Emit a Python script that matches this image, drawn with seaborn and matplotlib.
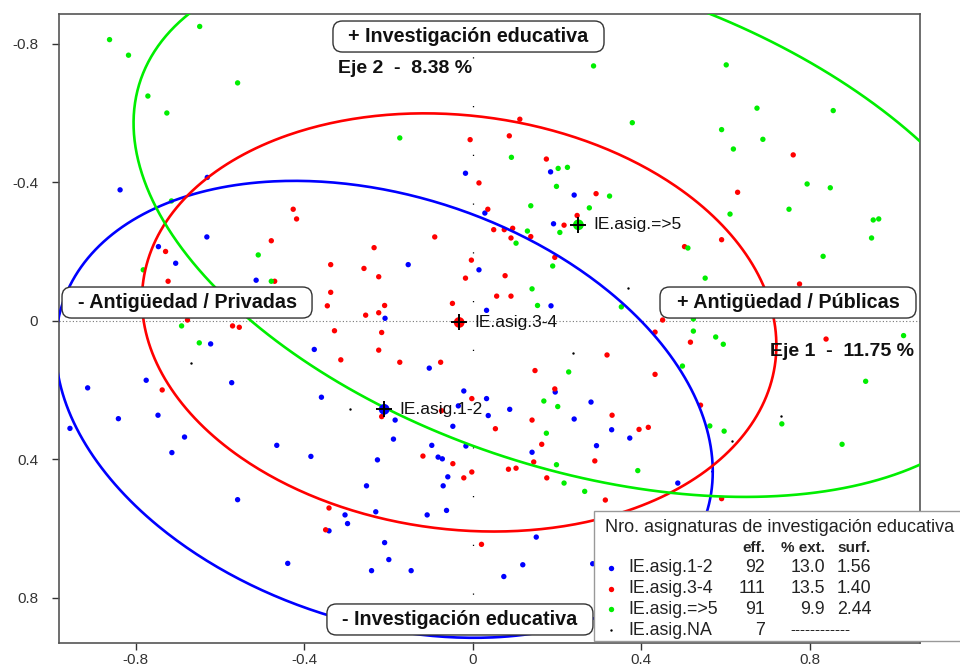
import numpy as np
import pandas as pd
import matplotlib
matplotlib.use("Agg")
import matplotlib.pyplot as plt
from matplotlib.patches import Rectangle, FancyBboxPatch
import seaborn as sns

# Individual points (factor 1 / factor 2 coordinates)
blue_x = [-0.837, -0.630, -0.631, -0.746, -0.705, -0.514, -0.017, 0.185, 0.241, 0.029,
          0.192, -0.153, 0.015, 0.186, 0.033, -0.208, -0.622, -0.376, -0.914, -0.775,
          -0.572, -0.841, -0.747, -0.359, -0.684, -0.956, -0.714, -0.465, -0.384, -0.558,
          -0.303, -0.297, -0.341, -0.439, -0.103, -0.021, 0.196, 0.033, 0.281, 0.088,
          -0.034, 0.037, 0.241, -0.047, -0.188, 0.330, 0.373, -0.097, -0.016, 0.141,
          0.294, -0.082, -0.072, -0.226, -0.059, -0.252, -0.070, -0.230, -0.062, -0.108,
          0.151, -0.209, -0.199, -0.240, -0.146, 0.119, 0.074, 0.285, -0.184, 0.487]
blue_y = [-0.378, -0.414, -0.242, -0.214, -0.166, -0.117, -0.426, -0.430, -0.363, -0.311,
          -0.280, -0.162, -0.147, -0.043, -0.030, -0.007, 0.067, 0.083, 0.194, 0.172,
          0.179, 0.283, 0.273, 0.221, 0.336, 0.311, 0.381, 0.360, 0.392, 0.517,
          0.561, 0.586, 0.607, 0.701, 0.137, 0.203, 0.206, 0.225, 0.235, 0.256,
          0.246, 0.274, 0.284, 0.305, 0.342, 0.315, 0.339, 0.360, 0.362, 0.380,
          0.361, 0.394, 0.399, 0.402, 0.451, 0.477, 0.477, 0.552, 0.548, 0.561,
          0.625, 0.641, 0.690, 0.722, 0.722, 0.705, 0.739, 0.702, 0.287, 0.469]

red_x = [-0.426, -0.418, -0.478, -0.729, -0.337, -0.723, -0.470, -0.337, -0.345, -0.677,
         0.112, -0.006, 0.087, 0.175, 0.015, 0.293, 0.036, 0.248, 0.217, 0.050,
         0.075, 0.095, 0.138, 0.091, -0.090, -0.234, -0.258, -0.223, -0.003, -0.017,
         0.077, 0.195, 0.057, 0.091, -0.048, -0.209, -0.223, -0.254, 0.761, 0.629,
         0.591, 0.503, 0.776, 0.451, -0.570, -0.554, -0.328, -0.313, -0.737, -0.341,
         -0.349, -0.216, -0.223, -0.173, -0.076, 0.319, 0.148, 0.195, -0.002, -0.216,
         0.141, 0.331, 0.054, 0.164, -0.118, -0.047, 0.145, 0.290, 0.085, 0.103,
         -0.002, -0.021, 0.176, 0.315, 0.021, -0.074, 0.433, 0.517, 0.839, 0.433,
         0.541, 0.395, 0.417, 0.591]
red_y = [-0.322, -0.294, -0.231, -0.200, -0.162, -0.114, -0.114, -0.082, -0.043, -0.002,
         -0.582, -0.523, -0.534, -0.467, -0.398, -0.367, -0.322, -0.304, -0.276, -0.263,
         -0.263, -0.267, -0.243, -0.239, -0.242, -0.211, -0.151, -0.127, -0.175, -0.123,
         -0.130, -0.183, -0.071, -0.071, -0.050, -0.044, -0.023, -0.016, -0.479, -0.371,
         -0.234, -0.214, -0.106, -0.002, 0.015, 0.019, 0.029, 0.113, 0.200, 0.541,
         0.604, 0.034, 0.085, 0.120, 0.120, 0.099, 0.144, 0.197, 0.225, 0.277,
         0.287, 0.273, 0.312, 0.357, 0.391, 0.413, 0.408, 0.405, 0.429, 0.426,
         0.437, 0.454, 0.454, 0.518, 0.646, 0.260, 0.033, 0.062, 0.053, 0.155,
         0.244, 0.314, 0.308, 0.514]

green_x = [-0.862, -0.817, -0.648, -0.558, -0.771, -0.726, -0.715, -0.509, -0.782, -0.478,
           0.287, 0.379, -0.173, 0.092, 0.203, 0.225, 0.199, 0.325, 0.277, 0.138,
           0.130, 0.207, 0.103, 0.190, 0.141, 0.154, 0.353, 0.602, 0.675, 0.856,
           0.591, 0.689, 0.619, 0.794, 0.849, 0.751, 0.611, 0.951, 0.964, 0.947,
           0.832, 0.511, 0.552, 0.524, -0.691, -0.649, 0.228, 0.169, 0.202, 0.175,
           0.199, 0.217, 0.266, 0.524, 0.577, 0.595, 1.023, 0.498, 0.933, 0.597,
           0.734, 0.877, 0.392, 0.563]
green_y = [-0.812, -0.767, -0.850, -0.687, -0.649, -0.600, -0.346, -0.190, -0.147, -0.114,
           -0.736, -0.572, -0.528, -0.472, -0.440, -0.443, -0.388, -0.360, -0.326, -0.332,
           -0.259, -0.255, -0.224, -0.158, -0.092, -0.044, -0.040, -0.739, -0.614, -0.607,
           -0.552, -0.524, -0.496, -0.395, -0.384, -0.322, -0.308, -0.291, -0.294, -0.239,
           -0.186, -0.210, -0.123, -0.005, 0.015, 0.064, 0.148, 0.232, 0.248, 0.325,
           0.416, 0.469, 0.493, 0.030, 0.047, 0.068, 0.043, 0.131, 0.175, 0.319,
           0.298, 0.357, 0.433, 0.304]

na_x = [0.369, -0.668, 0.239, -0.291, 0.733, 0.616]
na_y = [-0.094, 0.121, 0.094, 0.254, 0.275, 0.347]

# Category centroids and their concentration ellipses
cat_names = ["IE.asig.1-2", "IE.asig.3-4", "IE.asig.=>5"]
cat_x = [-0.210, -0.032, 0.251]
cat_y = [0.256, 0.005, -0.277]
ell_halfwidth = [0.780, 0.753, 1.056]
ell_halfheight = [0.660, 0.604, 0.786]
ell_skew = [0.180, 0.066, 0.294]   # vertical offset of the ellipse at its widest point
cat_colors = ["#0000ff", "#ff0000", "#00ee00"]

# Legend table
leg_names = ["IE.asig.1-2", "IE.asig.3-4", "IE.asig.=>5", "IE.asig.NA"]
leg_eff = ["92", "111", "91", "7"]
leg_ext = ["13.0", "13.5", "9.9", ""]
leg_surf = ["1.56", "1.40", "2.44", ""]

# Axis pole labels: text, box centre (axes fraction), box size (axes fraction)
pole_text = ["+ Investigación educativa", "- Investigación educativa",
             "- Antigüedad / Privadas", "+ Antigüedad / Públicas"]
pole_cx = [0.4756, 0.4657, 0.1487, 0.8467]
pole_cy = [0.9642, 0.0374, 0.5413, 0.5413]
pole_w = [0.3148, 0.3090, 0.2904, 0.2973]
pole_h = [0.0493, 0.0493, 0.0493, 0.0493]

sns.set_style("white")
plt.rcParams["font.family"] = ["Liberation Sans", "DejaVu Sans"]

fig = plt.figure(figsize=(9.6, 6.67), dpi=100)
ax = fig.add_axes([59 / 960, 1 - 643 / 667, 861 / 960, 629 / 667])

df = pd.DataFrame({
    "x": blue_x + red_x + green_x,
    "y": blue_y + red_y + green_y,
    "grupo": [cat_names[0]] * len(blue_x) + [cat_names[1]] * len(red_x) + [cat_names[2]] * len(green_x),
})
sns.scatterplot(data=df, x="x", y="y", hue="grupo", palette=dict(zip(cat_names, cat_colors)),
                s=15, linewidth=0, legend=False, ax=ax, zorder=3)
sns.scatterplot(x=na_x, y=na_y, color="black", s=3, linewidth=0, ax=ax, zorder=3)

# dotted axes through the origin
ax.axhline(0, color="#777777", lw=0.8, ls=(0, (1, 2)), zorder=1)
ax.axvline(0, color="black", lw=0.9, ls=(0, (1, 38)), zorder=1)

t = np.linspace(0, 2 * np.pi, 500)
for i in range(3):
    w, h, k = ell_halfwidth[i], ell_halfheight[i], ell_skew[i]
    ex = cat_x[i] + w * np.cos(t)
    ey = cat_y[i] + k * np.cos(t) + np.sqrt(h ** 2 - k ** 2) * np.sin(t)
    ax.plot(ex, ey, color=cat_colors[i], lw=1.9, zorder=4)

sns.scatterplot(x=cat_x, y=cat_y, hue=cat_names, palette=dict(zip(cat_names, cat_colors)),
                s=60, linewidth=0, legend=False, ax=ax, zorder=5)
ax.scatter(cat_x, cat_y, marker="+", color="black", s=120, linewidths=1.4, zorder=6)
for name, x, y in zip(cat_names, cat_x, cat_y):
    ax.annotate(name, (x, y), xytext=(11, 0), textcoords="offset points",
                va="center", ha="left", fontsize=12.5, color="#111111", zorder=6)

ax.set_xlim(-0.982, 1.062)
ax.set_ylim(0.931, -0.886)
ticks = [-0.8, -0.4, 0, 0.4, 0.8]
tick_labels = ["-0.8", "-0.4", "0", "0.4", "0.8"]
ax.set_xticks(ticks)
ax.set_xticklabels(tick_labels)
ax.set_yticks(ticks)
ax.set_yticklabels(tick_labels)
ax.tick_params(direction="out", length=5, width=1, color="#333333",
               labelsize=11, labelcolor="#333333", bottom=True, left=True)
ax.tick_params(axis="x", pad=2.5)
ax.tick_params(axis="y", pad=10)
ax.set_xlabel("")
ax.set_ylabel("")
for side in ax.spines.values():
    side.set_color("#555555")
    side.set_linewidth(1.2)

aspect = (861 / 960 * 9.6) / (629 / 667 * 6.67)
for txt, cx, cy, bw, bh in zip(pole_text, pole_cx, pole_cy, pole_w, pole_h):
    ax.add_patch(FancyBboxPatch((cx - bw / 2, cy - bh / 2), bw, bh,
                                boxstyle="round,pad=0,rounding_size=0.011", mutation_aspect=aspect,
                                transform=ax.transAxes, fc="white", ec="#333333", lw=1.0,
                                zorder=8, clip_on=False))
    ax.text(cx, cy, txt, transform=ax.transAxes, ha="center", va="center",
            fontsize=14.2, fontweight="bold", color="#111111", zorder=9)

ax.text(-0.319, -0.730, "Eje 2  -  8.38 %", ha="left", va="center",
        fontsize=14, fontweight="bold", color="#111111", zorder=8)
ax.text(0.706, 0.090, "Eje 1  -  11.75 %", ha="left", va="center",
        fontsize=14, fontweight="bold", color="#111111", zorder=8)

# legend table in the lower right corner
def fx(px):
    return px / 960

def fy(py):
    return 1 - py / 667

fig.add_artist(Rectangle((fx(594), fy(641)), fx(380), 130 / 667, transform=fig.transFigure,
                         fc="white", ec="#999999", lw=1.0, zorder=10))
fig.text(fx(605), fy(527), "Nro. asignaturas de investigación educativa", fontsize=13,
         color="#222222", va="center", ha="left", zorder=11)
fig.text(fx(765), fy(548), "eff.", fontsize=11, fontweight="bold", va="center", ha="right", zorder=11)
fig.text(fx(825), fy(548), "% ext.", fontsize=11, fontweight="bold", va="center", ha="right", zorder=11)
fig.text(fx(837), fy(548), "surf.", fontsize=11, fontweight="bold", va="center", ha="left", zorder=11)
row_colors = cat_colors + ["black"]
row_sizes = [15, 15, 15, 3]
for i, name in enumerate(leg_names):
    yy = fy(568 + i * 20.7)
    fig.add_artist(plt.Line2D([fx(611)], [yy], marker="o", ls="none", color=row_colors[i],
                              markersize=np.sqrt(row_sizes[i]), mew=0, transform=fig.transFigure,
                              zorder=11))
    fig.text(fx(628), yy, name, fontsize=12.8, color="#222222", va="center", ha="left", zorder=11)
    fig.text(fx(765), yy, leg_eff[i], fontsize=12.8, color="#222222", va="center", ha="right", zorder=11)
    if leg_ext[i]:
        fig.text(fx(825), yy, leg_ext[i], fontsize=12.8, color="#222222", va="center", ha="right", zorder=11)
        fig.text(fx(837), yy, leg_surf[i], fontsize=12.8, color="#222222", va="center", ha="left", zorder=11)
    else:
        fig.text(fx(790), yy, "------------", fontsize=11, color="#222222", va="center", ha="left", zorder=11)

fig.savefig("out.png", dpi=100)
